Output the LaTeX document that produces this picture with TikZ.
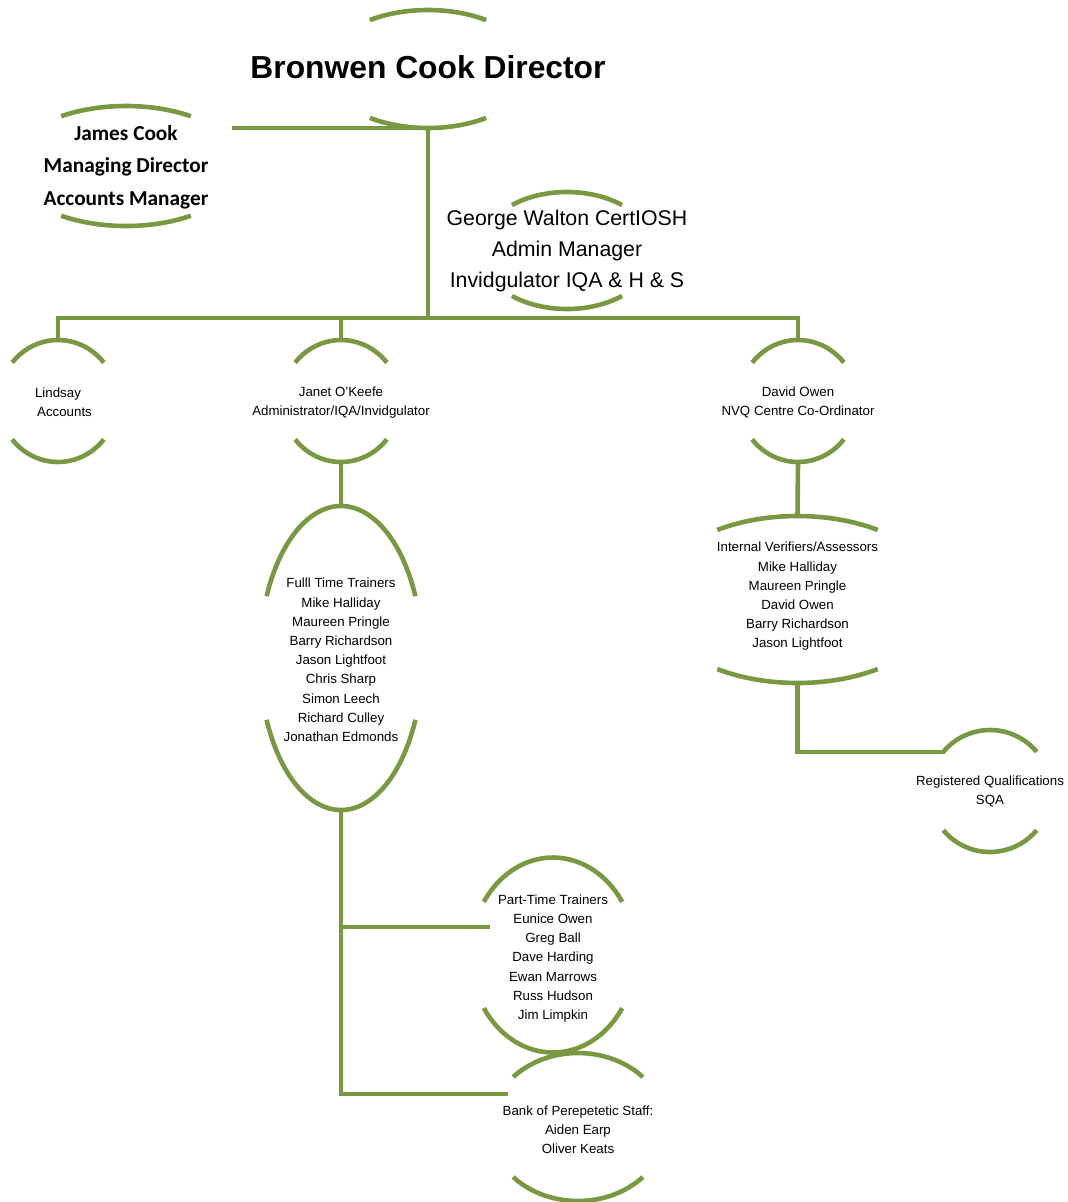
\documentclass[tikz,border=0pt]{standalone}
\usepackage{fontspec}
\setmainfont{Liberation Sans}
\newfontfamily\calib{Carlito}
\usetikzlibrary{calc}
\definecolor{og}{RGB}{122,152,66}
\tikzset{
  arcline/.style={draw=og, line width=4.6pt},
  conn/.style={draw=og, line width=4.6pt},
  small/.style={align=center, inner sep=0pt, font=\fontsize{13.3}{19.2}\selectfont},
  big/.style={align=center, inner sep=0pt, font=\fontsize{21.3}{31}\selectfont},
}
% #1 name, #2 cx, #3 cy (downwards), #4 rx, #5 ry, #6 angle
\newcommand{\ovarcs}[6]{%
  \coordinate (#1) at (#2,-#3);
  \coordinate (#1-t) at (#2,-#3+#5);
  \coordinate (#1-b) at (#2,-#3-#5);
  \draw[arcline] ([shift={({#4*cos(#6)},{#5*sin(#6)})}]#1) arc[start angle=#6, end angle=180-#6, x radius=#4, y radius=#5];
  \draw[arcline] ([shift={({-#4*cos(#6)},{-#5*sin(#6)})}]#1) arc[start angle=180+#6, end angle=360-#6, x radius=#4, y radius=#5];
}
\begin{document}
\begin{tikzpicture}[x=1pt,y=1pt]
\useasboundingbox[fill=white] (0,0) rectangle (1068,-1202);
% shapes
\ovarcs{bronwen}{428}{69}{104}{59}{56}
\ovarcs{james}{126}{166}{116}{60}{56}
\ovarcs{george}{567}{250.5}{87.5}{58.5}{51}
\ovarcs{lindsay}{58}{401}{59}{61}{39}
\ovarcs{janet}{341}{401}{59}{61}{39}
\ovarcs{david}{798}{401}{59}{61}{39}
\ovarcs{ft}{341}{658}{81.4}{152}{24}
\ovarcs{iv}{797.5}{599.5}{145}{83.5}{56.4}
\ovarcs{sqa}{990}{791}{61}{61}{40}
\ovarcs{pt}{553}{955}{82.5}{97.5}{33}
\ovarcs{bank}{578}{1127}{88}{74}{42.5}
% connector helper coordinates
\coordinate (jc-r) at (232,-128);
\coordinate (bus) at (428,-318);
\coordinate (sqa-in) at (945,-752);
\coordinate (pt-in) at (490,-927);
\coordinate (bank-in) at (508,-1094);
% connectors
\draw[conn] (jc-r) -- (bronwen-b);
\draw[conn] (bronwen-b) -- (bus);
\draw[conn] (lindsay-t) -- (lindsay-t |- bus) -- (david-t |- bus) -- (david-t);
\draw[conn] (janet-t) -- (janet-t |- bus);
\draw[conn] (janet-b) -- (ft-t);
\draw[conn] (david-b) -- (iv-t);
\draw[conn] (iv-b) |- (sqa-in);
\draw[conn] (ft-b) |- (bank-in);
\draw[conn] (ft-b |- pt-in) -- (pt-in);
% texts
\node[inner sep=0pt, anchor=base, font=\fontsize{31.8}{36}\selectfont\bfseries] (bronwen-txt) at (428,-78.5) {Bronwen Cook Director};
\node[align=center, inner sep=0pt, font=\fontsize{21.3}{32.5}\selectfont\calib\bfseries] (james-txt) at (126,-167) {James Cook\\Managing Director\\Accounts Manager};
\node[big] (george-txt) at (567,-251) {George Walton CertIOSH\\Admin Manager\\Invidgulator IQA \& H \& S};
\node[small] (lindsay-txt) at (58,-402.5) {Lindsay\\\hspace*{13pt}Accounts};
\node[small] (janet-txt) at (341,-402.5) {Janet O\symbol{"27}Keefe\\Administrator/IQA/Invidgulator};
\node[small] (david-txt) at (798,-402.5) {David Owen\\NVQ Centre Co-Ordinator};
\node[small] (ft-txt) at (341,-660) {Fulll Time Trainers\\Mike Halliday\\Maureen Pringle\\Barry Richardson\\Jason Lightfoot\\Chris Sharp\\Simon Leech\\Richard Culley\\Jonathan Edmonds};
\node[small] (iv-txt) at (797.5,-596.5) {Internal Verifiers/Assessors\\Mike Halliday\\Maureen Pringle\\David Owen\\Barry Richardson\\Jason Lightfoot};
\node[small] (sqa-txt) at (990,-791.5) {Registered Qualifications\\SQA};
\node[small] (pt-txt) at (553,-958.5) {Part-Time Trainers\\Eunice Owen\\Greg Ball\\Dave Harding\\Ewan Marrows\\Russ Hudson\\Jim Limpkin};
\node[small] (bank-txt) at (578,-1130) {Bank of Perepetetic Staff:\\Aiden Earp\\Oliver Keats};
\end{tikzpicture}
\end{document}
